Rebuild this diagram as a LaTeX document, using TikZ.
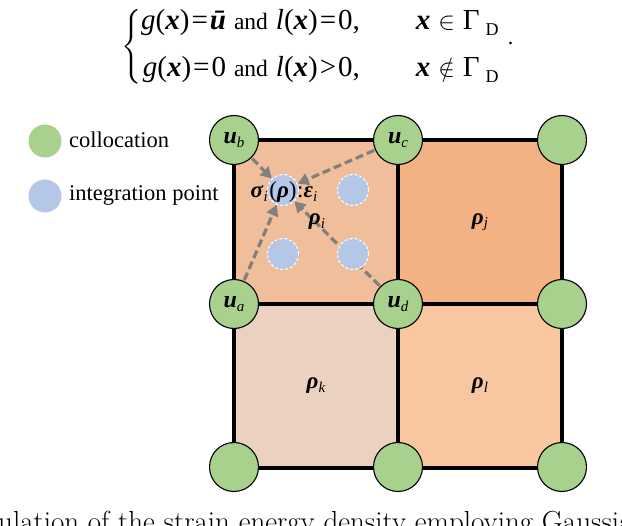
\documentclass[tikz,border=0pt]{standalone}
\usepackage{fontspec}
\setmainfont{Liberation Serif}
\usepackage{amsmath}
\usetikzlibrary{arrows.meta}
\pgfdeclarelayer{cells}
\pgfdeclarelayer{arrs}
\pgfsetlayers{cells,arrs,main}
\newcommand{\bfit}[1]{\textbf{\textit{#1}}}
\newcommand{\lsub}[1]{\raisebox{-3.5pt}{\fontsize{15}{15}\selectfont\itshape #1}}
\newcommand{\eqsub}[1]{\raisebox{-6pt}{\fontsize{18}{18}\selectfont #1}}
\newcommand{\capfont}{\fontfamily{lmr}\selectfont}
\newcommand{\andw}{{\fontsize{23.5}{25}\selectfont and}}
\newcommand{\eqrel}[1]{\kern2pt#1\kern2pt}
\definecolor{cgreen}{HTML}{A9D18E}
\definecolor{cblue}{HTML}{B4C7E7}
\definecolor{ci}{HTML}{F0BE9A}
\definecolor{cj}{HTML}{F4B183}
\definecolor{ck}{HTML}{EBD1BF}
\definecolor{cl}{HTML}{F8C6A1}
\definecolor{carrow}{HTML}{808080}
\tikzset{
  cellbox/.style={draw=black, line width=3.5pt, minimum width=164pt, minimum height=164pt, inner sep=0pt, font=\fontsize{23}{26}\selectfont},
  colloc/.style={circle, draw=black, line width=1.1pt, fill=cgreen, minimum size=49pt, inner sep=0pt, font=\fontsize{24}{26}\selectfont},
  ipt/.style={circle, draw=white, line width=1pt, dash pattern=on 3pt off 2pt, fill=cblue, minimum size=31pt, inner sep=0pt},
  legdot/.style={circle, minimum size=33pt, inner sep=0pt},
  legtext/.style={anchor=west, inner sep=0pt, font=\fontsize{22.5}{26}\selectfont},
  lbl/.style={inner sep=0pt, font=\fontsize{23}{26}\selectfont},
  arrowst/.style={draw=carrow, line width=3.2pt, dash pattern=on 8pt off 4pt, -{Triangle[length=11pt,width=12pt]}, shorten <=1pt}
}
\begin{document}
\begin{tikzpicture}[x=1pt,y=-1pt]
\useasboundingbox (0,0) rectangle (622,526);
% equation
\node[inner sep=0pt, anchor=west] (eq) at (121,47) {\fontsize{29}{30}\selectfont
$\left\{\vphantom{\rule[-32pt]{0pt}{64pt}}\begin{array}{@{}r@{\hspace{8pt}}l@{\hspace{56pt}}l@{}}
\text{\textit{g}(\bfit{x})\eqrel{=}\bfit{ū}} & \text{\andw\hspace{8pt}\textit{l}(\bfit{x})\eqrel{=}0,} & \text{\bfit{x}}\mathrel{\kern1pt\in\kern1pt}\text{Γ\hspace{6pt}\eqsub{D}}\\[17pt]
\text{\textit{g}(\bfit{x})\eqrel{=}0} & \text{\andw\hspace{8pt}\textit{l}(\bfit{x})\eqrel{>}0,} & \text{\bfit{x}}\mathrel{\kern1pt\notin\kern1pt}\text{Γ\hspace{6pt}\eqsub{D}}
\end{array}\right.$\hspace{8pt}\raisebox{9pt}{\fontsize{22}{22}\selectfont .}};
% legend
\node[legdot, fill=cgreen] (lg1) at (45,141) {};
\node[legtext] (lt1) at (69,140) {collocation};
\node[legdot, fill=cblue] (lg2) at (45,196) {};
\node[legtext] (lt2) at (69,195) {integration point};
% cells
\begin{pgfonlayer}{cells}
\node[cellbox, fill=ci] (celli) at (316,222) {};
\node[cellbox, fill=cj] (cellj) at (480,222) {\bfit{ρ}\lsub{j}};
\node[cellbox, fill=ck] (cellk) at (316,386) {\bfit{ρ}\lsub{k}};
\node[cellbox, fill=cl] (celll) at (480,386) {\bfit{ρ}\lsub{l}};
\end{pgfonlayer}
% integration points
\node[ipt] (ip1) at (283,190) {};
\node[ipt] (ip2) at (353,190) {};
\node[ipt] (ip3) at (283,254) {};
\node[ipt] (ip4) at (353,254) {};
% collocation points
\node[colloc] (ub) at (234,140) {\bfit{u}\lsub{b}};
\node[colloc] (uc) at (398,140) {\bfit{u}\lsub{c}};
\node[colloc] (n3) at (562,140) {};
\node[colloc] (ua) at (234,304) {\bfit{u}\lsub{a}};
\node[colloc] (ud) at (398,304) {\bfit{u}\lsub{d}};
\node[colloc] (n6) at (562,304) {};
\node[colloc] (n7) at (234,467) {};
\node[colloc] (n8) at (398,467) {};
\node[colloc] (n9) at (562,467) {};
% arrows
\begin{pgfonlayer}{arrs}
\draw[arrowst] (ub) -- (ip1);
\draw[arrowst] (uc) -- (ip1);
\draw[arrowst] (ua) -- (ip1);
\draw[arrowst] (ud) -- (ip1);
\end{pgfonlayer}
% labels
\node[lbl, anchor=base] (rho) at (283,198) {(\bfit{ρ})};
\node[lbl, anchor=base east] (sig) at (268,198) {\bfit{σ}\lsub{i}};
\node[lbl, anchor=base west] (eps) at (297,198) {:\bfit{ε}\lsub{i}};
\node[lbl] (rhoi) at (317,222) {\bfit{ρ}\lsub{i}};
% caption (cut off)
\node[anchor=base west, inner sep=0pt, font=\capfont\fontsize{29}{32}\selectfont] (cap) at (-2,532) {ulation of the strain energy density employing Gaussian};
\end{tikzpicture}
\end{document}
